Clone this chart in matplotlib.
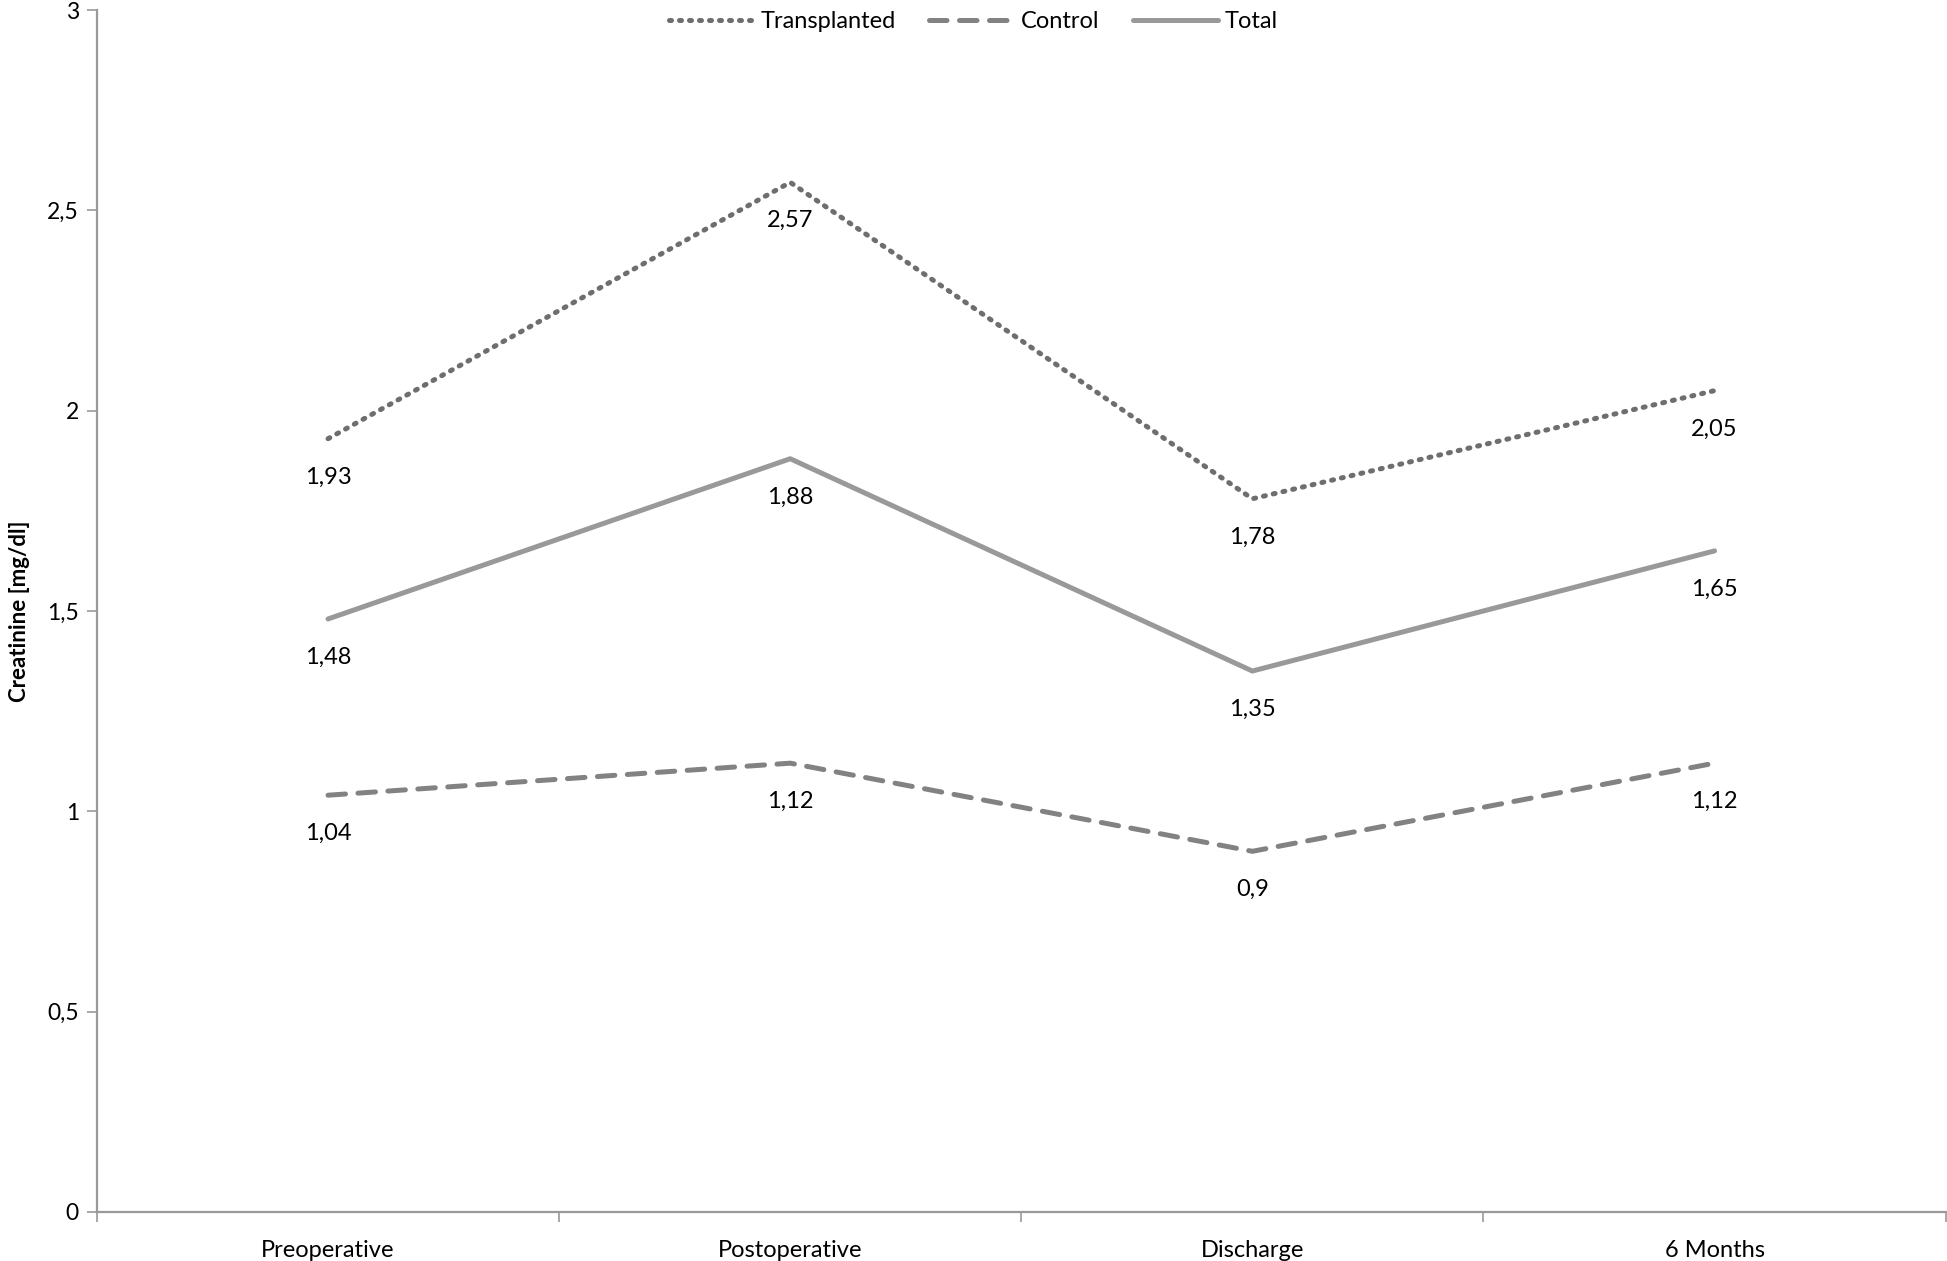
import matplotlib.pyplot as plt

categories = ['Preoperative', 'Postoperative', 'Discharge', '6 Months']
transplanted = [1.93, 2.57, 1.78, 2.05]
control = [1.04, 1.12, 0.90, 1.12]
total = [1.48, 1.88, 1.35, 1.65]
y_ticks = [0, 0.5, 1, 1.5, 2, 2.5, 3]

plt.rcParams['font.family'] = ['Lato', 'DejaVu Sans']

fig = plt.figure(figsize=(19.47, 12.61), dpi=100)
ax = fig.add_axes([0.0498, 0.039, 0.9495, 0.953])

x = range(len(categories))
series = [
    ('Transplanted', transplanted, '#6e6e6e', (0, (0.4, 1.6)), 'round'),
    ('Control', control, '#828282', (0, (3.5, 2.5)), 'round'),
    ('Total', total, '#999999', '-', 'round'),
]
for name, vals, color, ls, cap in series:
    ax.plot(x, vals, color=color, lw=3.6, linestyle=ls, label=name,
            dash_capstyle=cap, solid_capstyle=cap)
    for xi, v in zip(x, vals):
        label = f'{v:g}'.replace('.', ',')
        ax.annotate(label, (xi, v), xytext=(0, -20), textcoords='offset points',
                    ha='center', va='top', fontsize=17)

ax.set_xlim(-0.5, len(categories) - 0.5)
ax.set_ylim(0, 3)
ax.set_yticks(y_ticks)
ax.set_yticklabels([f'{t:g}'.replace('.', ',') for t in y_ticks], fontsize=16.5)
ax.set_xticks(x)
ax.set_xticklabels(categories, fontsize=17)
ax.set_xticks([i - 0.5 for i in range(len(categories) + 1)], minor=True)
ax.tick_params(axis='x', which='major', length=0, pad=20)
ax.tick_params(axis='x', which='minor', length=7, color='#999999', width=1.2)
ax.tick_params(axis='y', length=7, color='#999999', width=1.2, pad=6)

for side in ['top', 'right']:
    ax.spines[side].set_visible(False)
for side in ['left', 'bottom']:
    ax.spines[side].set_color('#999999')
    ax.spines[side].set_linewidth(1.6)

ax.set_ylabel('Creatinine [mg/dl]', fontsize=16, fontweight='bold', labelpad=12)

fig.legend(*ax.get_legend_handles_labels(), loc='upper center',
           bbox_to_anchor=(0.5, 1.008), ncol=3, frameon=False,
           fontsize=17, handlelength=3.6, columnspacing=1.4, handletextpad=0.3)

fig.savefig('out.png', dpi=100)
